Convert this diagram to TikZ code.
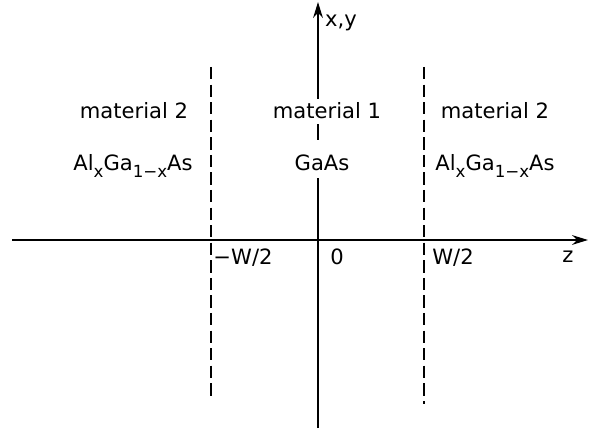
\documentclass[tikz,border=0pt]{standalone}
\usepackage{fontspec}
\setmainfont{DejaVu Sans}
\usetikzlibrary{arrows.meta}
\newcommand{\lowidx}[1]{\raisebox{-3.6pt}{\fontsize{9.5}{11}\selectfont #1}}
\begin{document}
\begin{tikzpicture}[x=0.02cm,y=-0.02cm,
  axis/.style={line width=1.4pt,-{Stealth[length=9pt,width=5.5pt]}},
  border/.style={line width=1.1pt,dash pattern=on 7pt off 3pt},
  lbl/.style={font=\fontsize{12}{14}\selectfont,inner sep=0pt,anchor=base},
  cover/.style={fill=white,inner xsep=3pt}]
  \useasboundingbox (0,0) rectangle (589,429);
  % axes
  \coordinate (zstart) at (12,240);
  \coordinate (zend) at (588,240);
  \coordinate (ybot) at (318,428);
  \coordinate (ytop) at (318,2);
  \draw[axis] (zstart) -- (zend);
  \draw[axis] (ybot) -- (ytop);
  % interfaces
  \coordinate (ltop) at (211,67);
  \coordinate (lbot) at (211,397);
  \coordinate (rtop) at (424,67);
  \coordinate (rbot) at (424,404);
  \draw[border] (ltop) -- (lbot);
  \draw[border] (rtop) -- (rbot);
  % labels
  \node[lbl] (ylabel) at (341,27) {x,y};
  \node[lbl] (zlabel) at (568,263) {z};
  \node[lbl] (mwest) at (243,265) {−W/2};
  \node[lbl] (origin) at (337,265) {0};
  \node[lbl] (peast) at (453,265) {W/2};
  \node[lbl] (matl) at (134,119) {material 2};
  \node[lbl,cover,text height=0.4cm,text depth=0.1cm] (matc) at (327,119) {material 1};
  \node[lbl] (matr) at (495,119) {material 2};
  \node[lbl] (alloyl) at (133,171) {Al\lowidx{x}Ga\lowidx{1−x}As};
  \node[lbl,cover,text height=0.62cm,text depth=0.14cm] (gaas) at (322,171) {GaAs};
  \node[lbl] (alloyr) at (495,171) {Al\lowidx{x}Ga\lowidx{1−x}As};
\end{tikzpicture}
\end{document}
